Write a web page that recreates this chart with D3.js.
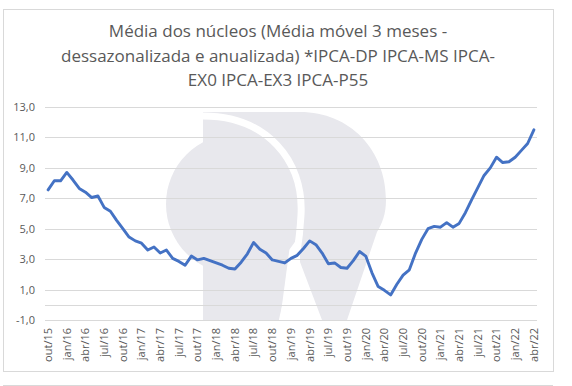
<!DOCTYPE html>
<html>
<head>
<meta charset="utf-8">
<script src="https://cdn.jsdelivr.net/npm/d3@7"></script>
<style>
  body { margin: 0; background: #fff; }
  text { font-family: "Open Sans", sans-serif; fill: #595959; }
</style>
</head>
<body>
<svg id="chart"></svg>
<script>
// categories (monthly, out/15 .. abr/22)
const categories = [
  "out/15", "nov/15", "dez/15",
  "jan/16", "fev/16", "mar/16", "abr/16", "mai/16", "jun/16", "jul/16", "ago/16", "set/16", "out/16", "nov/16", "dez/16",
  "jan/17", "fev/17", "mar/17", "abr/17", "mai/17", "jun/17", "jul/17", "ago/17", "set/17", "out/17", "nov/17", "dez/17",
  "jan/18", "fev/18", "mar/18", "abr/18", "mai/18", "jun/18", "jul/18", "ago/18", "set/18", "out/18", "nov/18", "dez/18",
  "jan/19", "fev/19", "mar/19", "abr/19", "mai/19", "jun/19", "jul/19", "ago/19", "set/19", "out/19", "nov/19", "dez/19",
  "jan/20", "fev/20", "mar/20", "abr/20", "mai/20", "jun/20", "jul/20", "ago/20", "set/20", "out/20", "nov/20", "dez/20",
  "jan/21", "fev/21", "mar/21", "abr/21", "mai/21", "jun/21", "jul/21", "ago/21", "set/21", "out/21", "nov/21", "dez/21",
  "jan/22", "fev/22", "mar/22", "abr/22"
];

// média dos núcleos, % a.a.
const values = [
  7.55, 8.15, 8.15,
  8.7, 8.2, 7.65, 7.4, 7.05, 7.15, 6.4, 6.15, 5.55, 5.0, 4.45, 4.2,
  4.05, 3.6, 3.8, 3.4, 3.6, 3.05, 2.85, 2.6, 3.2, 2.95, 3.05, 2.9,
  2.75, 2.6, 2.4, 2.35, 2.8, 3.35, 4.1, 3.65, 3.4, 2.95, 2.85, 2.75,
  3.05, 3.25, 3.7, 4.2, 3.95, 3.4, 2.7, 2.75, 2.45, 2.4, 2.9, 3.5,
  3.2, 2.1, 1.2, 0.95, 0.65, 1.35, 1.95, 2.3, 3.4, 4.3, 5.0, 5.15,
  5.1, 5.4, 5.1, 5.35, 6.05, 6.9, 7.7, 8.5, 9.0, 9.7, 9.35, 9.4,
  9.7, 10.15, 10.6, 11.5
];

const yTicks = [-1, 1, 3, 5, 7, 9, 11, 13];
const xTickLabels = categories.filter((d, i) => i % 3 === 0);

const titleLines = [
  "Média dos núcleos (Média móvel 3 meses -",
  "dessazonalizada e anualizada) *IPCA-DP IPCA-MS IPCA-",
  "EX0 IPCA-EX3 IPCA-P55"
];

const W = 572, H = 386;
const plot = { left: 45, right: 537, top: 107, bottom: 320 };

const svg = d3.select("#chart").attr("width", W).attr("height", H);

// chart frame
svg.append("rect")
  .attr("x", 3.5).attr("y", 9.5)
  .attr("width", 550).attr("height", 362)
  .attr("fill", "#fff")
  .attr("stroke", "#d9d9d9");

// top edge of the next chart below
svg.append("line")
  .attr("x1", 3).attr("x2", 553)
  .attr("y1", 385.5).attr("y2", 385.5)
  .attr("stroke", "#d9d9d9");

// watermark logo
const wm = svg.append("g").attr("fill", "#e8e8ed");
wm.append("path")
  .attr("d", "M203,112 L300,112 C350,112 386,150 386,200 C386,214 382,224 377,232 L347,320 L322,320 L300,262 L300,205 L203,205 Z");
wm.append("path")
  .attr("d", "M203,200 L296,200 L280,320 L203,320 Z");
wm.append("circle").attr("cx", 236).attr("cy", 204).attr("r", 70);
svg.append("path")
  .attr("d", "M203,116 C266,116 304,160 301,215 C299,256 289,290 282,322")
  .attr("fill", "none")
  .attr("stroke", "#fff")
  .attr("stroke-width", 7);

// title
svg.append("g").selectAll("text")
  .data(titleLines)
  .enter()
  .append("text")
    .attr("x", 278)
    .attr("y", (d, i) => 37 + i * 24.5)
    .attr("text-anchor", "middle")
    .attr("font-size", "17px")
    .text(d => d);

const x = d3.scaleBand()
  .domain(categories)
  .range([plot.left, plot.right]);

const y = d3.scaleLinear()
  .domain([-1, 13])
  .range([plot.bottom, plot.top]);

// gridlines
svg.append("g").selectAll("line")
  .data(yTicks.concat([0]))
  .enter()
  .append("line")
    .attr("x1", plot.left).attr("x2", plot.right)
    .attr("y1", d => Math.round(y(d)) + 0.5)
    .attr("y2", d => Math.round(y(d)) + 0.5)
    .attr("stroke", "#d9d9d9")
    .attr("stroke-width", 1);

// y axis
const yAxis = svg.append("g")
  .attr("transform", `translate(${plot.left},0)`)
  .call(d3.axisLeft(y)
    .tickValues(yTicks)
    .tickSize(0)
    .tickPadding(10)
    .tickFormat(d => d.toFixed(1).replace(".", ",")));
yAxis.select(".domain").remove();
yAxis.selectAll("text")
  .attr("font-size", "11px")
  .attr("font-family", "Open Sans, sans-serif")
  .attr("fill", "#595959");

// x axis
const xAxis = svg.append("g")
  .attr("transform", `translate(0,${plot.bottom})`)
  .call(d3.axisBottom(x)
    .tickValues(xTickLabels)
    .tickSize(0));
xAxis.select(".domain").remove();
xAxis.selectAll("text")
  .attr("transform", "rotate(-90)")
  .attr("x", -8)
  .attr("y", 0)
  .attr("dy", "0.35em")
  .attr("text-anchor", "end")
  .attr("font-size", "11px")
  .attr("font-family", "Open Sans, sans-serif")
  .attr("fill", "#595959");

// series line
const line = d3.line()
  .x((d, i) => x(categories[i]) + x.bandwidth() / 2)
  .y(d => y(d));

svg.append("path")
  .datum(values)
  .attr("d", line)
  .attr("fill", "none")
  .attr("stroke", "#4472c4")
  .attr("stroke-width", 2.9)
  .attr("stroke-linejoin", "round")
  .attr("stroke-linecap", "round");
</script>
</body>
</html>
